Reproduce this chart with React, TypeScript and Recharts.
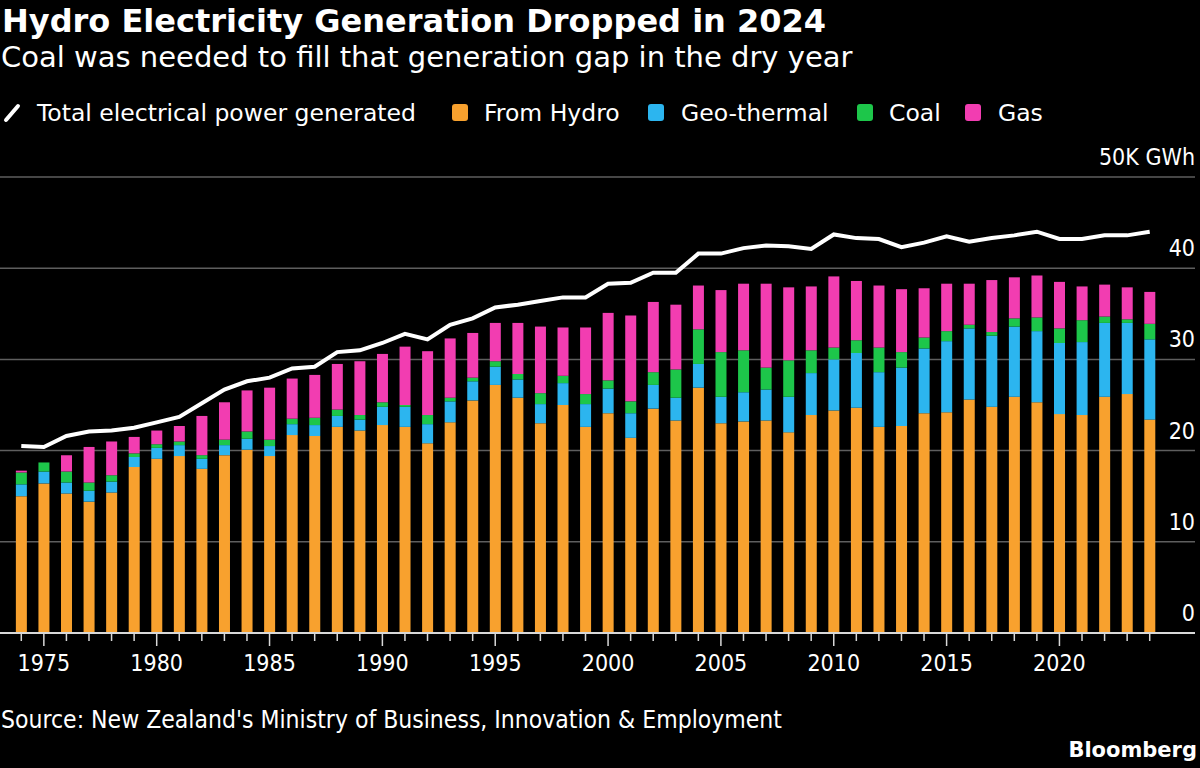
import React from 'react';
import { ComposedChart, Bar, Line, XAxis, YAxis, CartesianGrid } from 'recharts';

const years = ['1974','1975','1976','1977','1978','1979','1980','1981','1982','1983',
  '1984','1985','1986','1987','1988','1989','1990','1991','1992','1993',
  '1994','1995','1996','1997','1998','1999','2000','2001','2002','2003',
  '2004','2005','2006','2007','2008','2009','2010','2011','2012','2013',
  '2014','2015','2016','2017','2018','2019','2020','2021','2022','2023','2024'];

const hydro = [15.0,16.4,15.3,14.4,15.4,18.2,19.1,19.4,18.0,19.5,
  20.1,19.4,21.7,21.6,22.6,22.2,22.8,22.6,20.8,23.1,
  25.5,27.2,25.8,23.0,25.0,22.6,24.1,21.4,24.6,23.3,
  26.9,23.0,23.2,23.3,22.0,23.9,24.4,24.7,22.6,22.7,
  24.1,24.2,25.6,24.8,25.9,25.3,24.0,23.9,25.9,26.2,23.4];

const geothermal = [1.3,1.3,1.2,1.2,1.2,1.1,1.2,1.2,1.1,1.1,
  1.2,1.1,1.2,1.2,1.2,1.2,2.0,2.2,2.1,2.3,
  2.1,2.0,2.0,2.1,2.4,2.5,2.7,2.7,2.6,2.5,
  2.6,2.9,3.2,3.4,3.9,4.6,5.6,6.0,6.0,6.4,
  7.1,7.8,7.8,7.8,7.7,7.8,7.8,8.0,8.1,7.8,8.8];

const coal = [1.3,1.0,1.2,0.9,0.7,0.4,0.4,0.4,0.4,0.6,
  0.8,0.7,0.6,0.8,0.7,0.5,0.5,0.2,1.0,0.4,
  0.4,0.6,0.6,1.2,0.8,1.1,0.9,1.3,1.4,3.1,
  3.8,4.9,4.6,2.4,4.0,2.5,1.3,1.4,2.7,1.7,
  1.2,1.1,0.4,0.4,0.9,1.5,1.6,2.4,0.7,0.4,1.7];

const gas = [0.2,0.0,1.8,3.9,3.7,1.8,1.5,1.7,4.3,4.1,
  4.5,5.7,4.4,4.7,5.0,5.9,5.3,6.4,7.0,6.5,
  4.9,4.2,5.6,7.3,5.3,7.3,7.4,9.4,7.7,7.1,
  4.8,6.8,7.3,9.2,8.0,7.0,7.8,6.5,6.8,6.9,
  5.4,5.2,4.5,5.7,4.5,4.6,5.1,3.7,3.5,3.5,3.5];

const total = [20.5,20.4,21.6,22.1,22.2,22.5,23.1,23.7,25.2,26.7,
  27.6,28.0,29.0,29.2,30.8,31.0,31.8,32.8,32.2,33.8,
  34.5,35.7,36.0,36.4,36.8,36.8,38.3,38.4,39.5,39.5,
  41.6,41.6,42.2,42.5,42.4,42.1,43.7,43.3,43.2,42.3,
  42.8,43.5,42.9,43.3,43.6,44.0,43.2,43.2,43.6,43.6,44.0];

const yTicks = [0, 10, 20, 30, 40, 50];
const labelledYears = ['1975','1980','1985','1990','1995','2000','2005','2010','2015','2020'];

const COLORS = {
  hydro: '#F8A12E',
  geothermal: '#2CB5EF',
  coal: '#1DC64A',
  gas: '#F23DB1',
  total: '#FFFFFF',
};

const FONT = "'DejaVu Sans', 'Open Sans', sans-serif";
const FONT_NARROW = "'DejaVu Sans Condensed', 'DejaVu Sans', sans-serif";

const data = years.map((year, i) => ({
  year,
  hydro: hydro[i],
  geothermal: geothermal[i],
  coal: coal[i],
  gas: gas[i],
  total: total[i],
}));

const legendItems = [
  { key: 'total', label: 'Total electrical power generated', type: 'line', x: 5, tx: 37 },
  { key: 'hydro', label: 'From Hydro', type: 'square', x: 452, tx: 484 },
  { key: 'geothermal', label: 'Geo-thermal', type: 'square', x: 648, tx: 681 },
  { key: 'coal', label: 'Coal', type: 'square', x: 857, tx: 889 },
  { key: 'gas', label: 'Gas', type: 'square', x: 965, tx: 998 },
];

function XTick(props: any) {
  const { x, y, payload } = props;
  const major = labelledYears.includes(String(payload.value));
  return (
    <g>
      <line x1={x} x2={x} y1={y} y2={y + (major ? 13 : 8)} stroke="#d8d8d8" strokeWidth={1.5} />
      {major && (
        <text x={x} y={y + 38} textAnchor="middle" fill="#fff" fontSize={23} fontFamily={FONT_NARROW}>
          {payload.value}
        </text>
      )}
    </g>
  );
}

function YTick(props: any) {
  const { x, y, payload } = props;
  const v = payload.value;
  return (
    <text x={x} y={y - 12} textAnchor="end" fill="#fff" fontSize={23} fontFamily={FONT_NARROW}>
      {v === 50 ? '50K GWh' : String(v)}
    </text>
  );
}

export default function App() {
  return (
    <div style={{ position: 'relative', width: 1200, height: 768, background: '#000', overflow: 'hidden' }}>
      <style>{'body{margin:0;background:#000;}'}</style>
      <ComposedChart
        width={1200}
        height={768}
        data={data}
        margin={{ top: 177, right: 0, bottom: 95, left: 0 }}
        barCategoryGap="26%"
      >
        <CartesianGrid horizontal vertical={false} stroke="#5e5e5e" strokeWidth={1.5} />
        <XAxis
          dataKey="year"
          height={40}
          interval={0}
          padding={{ left: 10, right: 34 }}
          axisLine={{ stroke: '#d8d8d8', strokeWidth: 2 }}
          tickLine={false}
          tickSize={0}
          tickMargin={0}
          tick={<XTick />}
        />
        <YAxis
          orientation="right"
          width={5}
          domain={[0, 50]}
          ticks={yTicks}
          interval={0}
          axisLine={false}
          tickLine={false}
          tickSize={0}
          tickMargin={0}
          tick={<YTick />}
        />
        <Bar dataKey="hydro" stackId="a" fill={COLORS.hydro} isAnimationActive={false} />
        <Bar dataKey="geothermal" stackId="a" fill={COLORS.geothermal} isAnimationActive={false} />
        <Bar dataKey="coal" stackId="a" fill={COLORS.coal} isAnimationActive={false} />
        <Bar dataKey="gas" stackId="a" fill={COLORS.gas} isAnimationActive={false} />
        <Line
          dataKey="total"
          type="linear"
          stroke={COLORS.total}
          strokeWidth={4}
          dot={false}
          activeDot={false}
          isAnimationActive={false}
        />
      </ComposedChart>
      <svg
        width={1200}
        height={768}
        style={{ position: 'absolute', left: 0, top: 0, pointerEvents: 'none' }}
      >
        <text x={2} y={32} fill="#fff" fontSize={32} fontWeight={700} fontFamily={FONT}>
          Hydro Electricity Generation Dropped in 2024
        </text>
        <text x={1} y={67} fill="#fff" fontSize={29} fontFamily={FONT}>
          Coal was needed to fill that generation gap in the dry year
        </text>
        {legendItems.map((it) => (
          <g key={it.key}>
            {it.type === 'line' ? (
              <line x1={6} y1={120} x2={18} y2={106} stroke="#fff" strokeWidth={4} strokeLinecap="round" />
            ) : (
              <rect x={it.x} y={104} width={16} height={17} rx={3} fill={(COLORS as any)[it.key]} />
            )}
            <text x={it.tx} y={121} fill="#fff" fontSize={23.5} fontFamily={FONT}>
              {it.label}
            </text>
          </g>
        ))}
        <text x={1} y={728} fill="#fff" fontSize={24.5} fontFamily={FONT_NARROW}>
          Source: New Zealand's Ministry of Business, Innovation &amp; Employment
        </text>
        <text x={1197} y={757} textAnchor="end" fill="#fff" fontSize={21} fontWeight={700} fontFamily={FONT}>
          Bloomberg
        </text>
      </svg>
    </div>
  );
}
